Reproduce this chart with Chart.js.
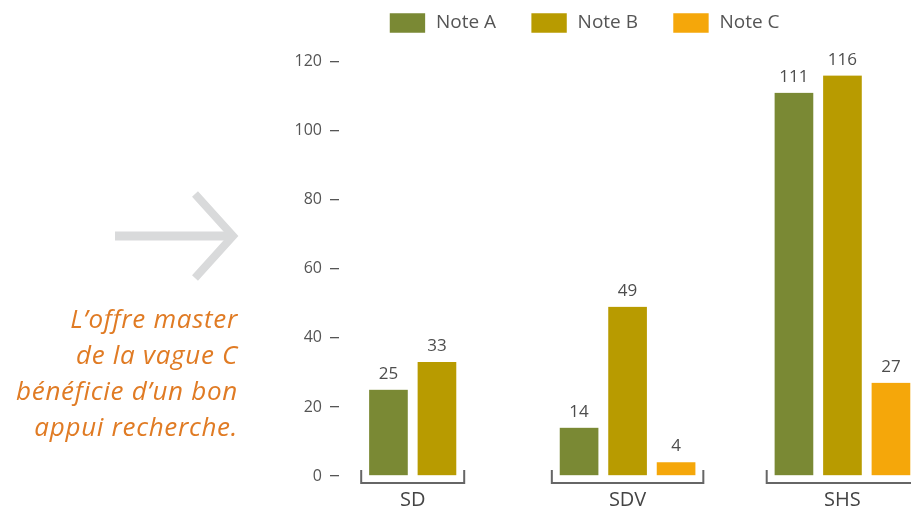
<!DOCTYPE html>
<html lang="fr">
<head>
<meta charset="utf-8">
<title>Notes par domaine</title>
<script src="https://cdn.jsdelivr.net/npm/chart.js@4/dist/chart.umd.min.js"></script>
<style>
  html, body { margin: 0; padding: 0; background: #fff; }
  #wrap { position: relative; width: 911px; height: 511px; overflow: hidden; }
  #chart { position: absolute; left: 0; top: 0; }
  #arrow { position: absolute; left: 0; top: 0; }
  #note {
    position: absolute;
    right: 673px;
    top: 300px;
    width: 260px;
    text-align: right;
    font-family: "Open Sans", sans-serif;
    font-style: italic;
    font-size: 26px;
    letter-spacing: 0.7px;
    line-height: 36px;
    color: #e07b24;
    white-space: nowrap;
  }
</style>
</head>
<body>
<div id="wrap">
  <canvas id="chart" width="911" height="511"></canvas>
  <svg id="arrow" width="260" height="300">
    <line x1="115" y1="236" x2="234" y2="236" stroke="#d9dadb" stroke-width="9"></line>
    <polyline points="195,194 233,236 195,278" fill="none" stroke="#d9dadb" stroke-width="8" stroke-linejoin="miter"></polyline>
  </svg>
  <div id="note">L’offre master<br>de la vague C<br>bénéficie d’un bon<br>appui recherche.</div>
</div>
<script>
const categories = ["SD", "SDV", "SHS"];
const noteA = [25, 14, 111];
const noteB = [33, 49, 116];
const noteC = [null, 4, 27];
const yTicks = [0, 20, 40, 60, 80, 100, 120];

const textGray = "#555555";
const fontName = "'Open Sans', sans-serif";

// legend box sits higher than its padding would put it, so force its height
const legendHeight = {
  id: "legendHeight",
  beforeInit(chart) {
    const fit = chart.legend.fit;
    chart.legend.fit = function () {
      fit.call(this);
      this.height = 83.7;
    };
  },
};

// brackets under each group
const groupBrackets = {
  id: "groupBrackets",
  afterDatasetsDraw(chart) {
    const ctx = chart.ctx;
    const bottom = chart.chartArea.bottom;
    ctx.save();
    ctx.strokeStyle = "#666";
    ctx.lineWidth = 2;
    categories.forEach((c, i) => {
      let left = Infinity;
      let right = -Infinity;
      chart.data.datasets.forEach((ds, d) => {
        if (ds.data[i] == null) return;
        let bar = chart.getDatasetMeta(d).data[i];
        left = Math.min(left, bar.x - bar.width / 2);
        right = Math.max(right, bar.x + bar.width / 2);
      });
      left -= 3;
      right += 3;
      ctx.beginPath();
      ctx.moveTo(left, bottom - 6);
      ctx.lineTo(left, bottom + 7);
      ctx.lineTo(right, bottom + 7);
      ctx.lineTo(right, bottom - 6);
      ctx.stroke();
    });
    ctx.restore();
  },
};

// value on top of each bar
const barValues = {
  id: "barValues",
  afterDatasetsDraw(chart) {
    const ctx = chart.ctx;
    ctx.save();
    ctx.font = "17px " + fontName;
    ctx.fillStyle = "#4d4d4d";
    ctx.textAlign = "center";
    ctx.textBaseline = "alphabetic";
    chart.data.datasets.forEach((ds, d) => {
      chart.getDatasetMeta(d).data.forEach((bar, i) => {
        if (ds.data[i] == null) return;
        ctx.fillText(String(ds.data[i]), bar.x, bar.y - 11);
      });
    });
    ctx.restore();
  },
};

function barSet(label, data, color) {
  return {
    label: label,
    data: data,
    backgroundColor: color,
    borderColor: "#ffffff",
    borderWidth: { left: 5.25, right: 5.25, top: 0, bottom: 0 },
    borderSkipped: false,
    barThickness: 48.5,
    skipNull: true,
  };
}

new Chart(document.getElementById("chart"), {
  type: "bar",
  data: {
    labels: categories.map((c, i) => i),
    datasets: [
      barSet("Note A", noteA, "#7a8934"),
      barSet("Note B", noteB, "#b89b00"),
      barSet("Note C", noteC, "#f5a70a"),
    ],
  },
  options: {
    responsive: false,
    animation: false,
    layout: { padding: { left: 257, right: 0, top: -22, bottom: 0 } },
    plugins: {
      tooltip: { enabled: false },
      legend: {
        position: "top",
        align: "center",
        labels: {
          boxWidth: 38,
          boxHeight: 22,
          padding: 34,
          color: textGray,
          font: { family: fontName, size: 19 },
        },
      },
    },
    scales: {
      x: {
        type: "linear",
        bounds: "data",
        offset: false,
        min: -0.343,
        max: 2.319,
        afterBuildTicks(scale) {
          scale.ticks = categories.map((c, i) => ({ value: i }));
        },
        grid: { display: false, drawTicks: false, offset: false },
        border: { display: false },
        ticks: {
          autoSkip: false,
          maxRotation: 0,
          padding: 12,
          color: "#444",
          font: { family: fontName, size: 20 },
          callback: (v) => categories[v],
        },
        afterFit(scale) {
          scale.height = 35;
        },
      },
      y: {
        min: 0,
        max: 120,
        afterBuildTicks(scale) {
          scale.ticks = yTicks.map((v) => ({ value: v }));
        },
        grid: {
          drawOnChartArea: false,
          tickLength: 9,
          tickColor: textGray,
          lineWidth: 1.3,
        },
        border: { display: false },
        ticks: {
          padding: 8,
          color: textGray,
          font: { family: fontName, size: 16 },
        },
        afterFit(scale) {
          scale.width = 82;
        },
      },
    },
  },
  plugins: [legendHeight, groupBrackets, barValues],
});
</script>
</body>
</html>
